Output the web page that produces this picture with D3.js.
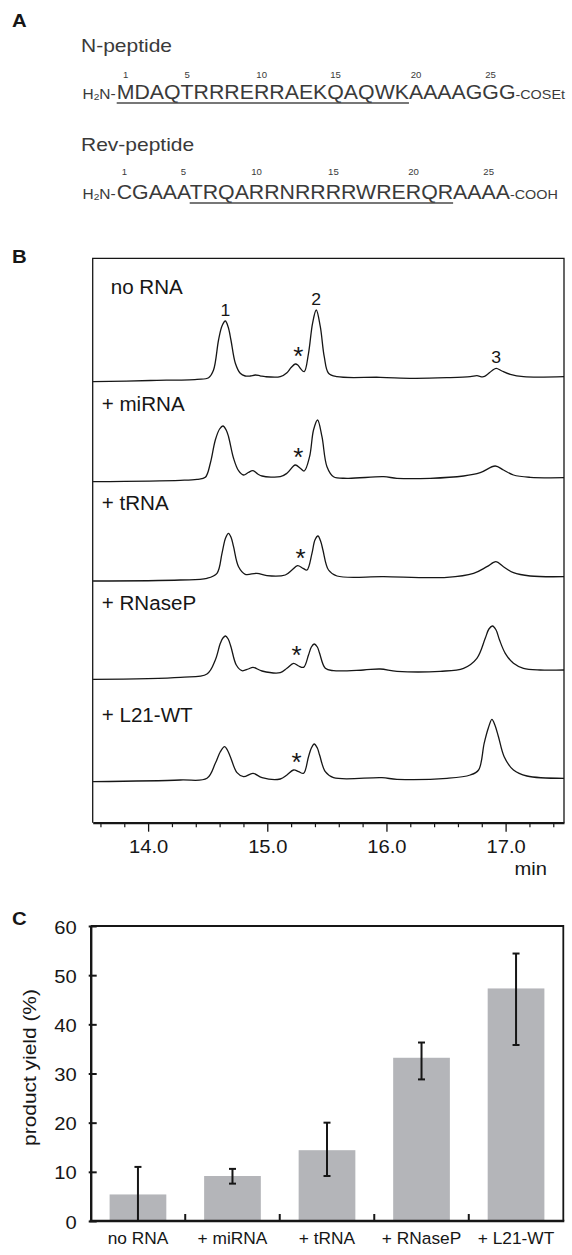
<!DOCTYPE html>
<html><head><meta charset="utf-8">
<script src="https://cdn.jsdelivr.net/npm/d3@7"></script>
<style>html,body{margin:0;padding:0;background:#fff;} svg{display:block;font-family:"Liberation Sans",Arial,Helvetica,sans-serif;}</style>
</head><body><svg id="fig" width="572" height="1255"></svg>
<script>
// ---------------- Panel A data ----------------
const nPeptideSeq = "MDAQTRRRERRAEKQAQWKAAAAGGG";
const nPeptideUnderline = [1, 19];
const revPeptideSeq = "CGAAATRQARRNRRRRWRERQRAAAA";
const revPeptideUnderline = [6, 22];
const residueMarks = [1, 5, 10, 15, 20, 25];

// ---------------- Panel B data (time in min, signal in arbitrary units) ----------------
const lanes = ["no RNA", "+ miRNA", "+ tRNA", "+ RNaseP", "+ L21-WT"];
const traceNoRNA = [[13.538,-1.7],[14.02,-0.5],[14.41,0.7],[14.508,2.3],[14.549,10],[14.591,40],[14.62,54],[14.648,59],[14.672,53],[14.695,40],[14.732,16.7],[14.773,6.7],[14.815,4],[14.857,4],[14.899,5],[14.94,4.2],[14.983,3.3],[15.109,3.3],[15.165,7.3],[15.2,12.5],[15.235,16],[15.256,15],[15.277,11.7],[15.31,8.3],[15.346,26.7],[15.38,56.7],[15.411,70],[15.445,53.3],[15.478,23.3],[15.514,6.7],[15.585,3.3],[15.948,2.7],[16.227,1.7],[16.508,2.3],[16.703,3.3],[16.759,4.3],[16.815,3.3],[16.885,9.3],[16.921,11.7],[16.969,9],[17.039,5.7],[17.15,3.3],[17.49,3.3]];
const traceMiRNA = [[13.538,-1.7],[14.27,-0.3],[14.41,0.7],[14.48,2.7],[14.522,16.7],[14.564,40],[14.6,51],[14.628,54],[14.655,50],[14.675,43.3],[14.717,21.7],[14.759,9.3],[14.801,5],[14.84,7.5],[14.88,9.3],[14.92,6],[14.956,4],[15.109,3.3],[15.165,6.7],[15.235,15],[15.277,11.7],[15.31,9],[15.355,23.3],[15.388,50],[15.422,60],[15.459,43.3],[15.501,13.3],[15.556,3.3],[15.669,1.7],[15.976,3.3],[16.088,1.7],[16.367,1.7],[16.647,4],[16.787,7.3],[16.913,14],[16.982,10],[17.066,5],[17.206,2.7],[17.49,2.3]];
const traceTRNA = [[13.538,-1],[14.27,0],[14.494,1.7],[14.578,6.7],[14.62,26.7],[14.65,42],[14.675,46.7],[14.698,42],[14.717,33.3],[14.759,13.3],[14.815,5.7],[14.913,6.7],[14.997,4.3],[15.151,5],[15.207,10],[15.254,14.3],[15.3,11.7],[15.333,10],[15.375,26.7],[15.4,40],[15.425,44],[15.45,38],[15.467,30],[15.514,10],[15.585,4],[15.976,3.3],[16.508,2.7],[16.731,6.7],[16.843,13.3],[16.919,18.3],[16.982,13.3],[17.066,7.3],[17.206,4],[17.49,3.3]];
const traceRNaseP = [[13.538,0.7],[14.27,2.7],[14.494,6],[14.564,20],[14.606,36.7],[14.628,42],[14.65,44],[14.672,41],[14.695,33.3],[14.74,15],[14.788,9.3],[14.84,11],[14.88,12.7],[14.956,9],[15.109,7.3],[15.165,11.7],[15.221,16.7],[15.263,14],[15.305,12.7],[15.346,25],[15.37,33],[15.394,36],[15.42,33],[15.439,26.7],[15.487,11.7],[15.556,9.3],[15.808,10],[15.948,11],[16.088,8.7],[16.451,8.7],[16.647,11.7],[16.759,21.7],[16.829,41.7],[16.86,51],[16.89,54],[16.92,50],[16.949,40],[16.997,26.7],[17.066,16.7],[17.15,11.7],[17.29,10],[17.49,10]];
const traceL21WT = [[13.538,-1.7],[14.27,0],[14.494,1.7],[14.564,16.7],[14.605,28],[14.642,33.3],[14.665,30],[14.69,23.3],[14.746,7.3],[14.801,3.3],[14.88,6.7],[14.956,2.3],[15.109,1],[15.165,5],[15.221,10],[15.263,8.3],[15.305,6.7],[15.346,23.3],[15.37,32],[15.394,36],[15.42,32],[15.439,25],[15.487,8.3],[15.556,2.3],[15.962,2.3],[16.088,0.7],[16.508,1.7],[16.703,5],[16.773,10],[16.82,36.7],[16.855,52],[16.885,60.7],[16.91,55],[16.94,43.3],[16.988,23.3],[17.066,10],[17.179,4],[17.49,1.7]];
const traces = [traceNoRNA, traceMiRNA, traceTRNA, traceRNaseP, traceL21WT];
const peakLabels = [{label: "1", t: 14.648}, {label: "2", t: 15.411}, {label: "3", t: 16.921}];
const starPeakTime = 15.24;
const timeDomain = [13.535, 17.49];
const timeTicksMajor = [14, 15, 16, 17];
const timeTickLabels = ["14.0", "15.0", "16.0", "17.0"];
const timeTicksMinor = [13.6,13.8,14.2,14.4,14.6,14.8,15.2,15.4,15.6,15.8,16.2,16.4,16.6,16.8,17.2,17.4];

// ---------------- Panel C data ----------------
const yieldCategories = ["no RNA", "+ miRNA", "+ tRNA", "+ RNaseP", "+ L21-WT"];
const yieldMean = [5.4, 9.15, 14.4, 33.2, 47.3];
const yieldErrLow = [0.0, 7.6, 9.15, 28.8, 35.8];
const yieldErrHigh = [11.0, 10.6, 20.0, 36.3, 54.4];
const yieldTicks = [0, 10, 20, 30, 40, 50, 60];

// ---------------- drawing ----------------
const svg = d3.select("#fig");
const ink = "#161616", inkA = "#3a3a3a";

function label(parent, x, y, str, o = {}) {
  const g = parent.append("g")
    .attr("transform", `translate(${x},${y})${o.rotate ? ` rotate(${o.rotate})` : ""} scale(${o.sx || 1},1)`);
  return g.append("text").attr("font-size", o.size || 16).attr("text-anchor", o.anchor || "start")
    .attr("font-weight", o.weight || "normal").attr("fill", o.fill || ink).text(str);
}

// Panel letters
label(svg, 12, 27, "A", {size: 18.5, weight: "bold", sx: 1.1});
label(svg, 12, 263, "B", {size: 18.5, weight: "bold", sx: 1.1});
label(svg, 12, 925, "C", {size: 18.5, weight: "bold", sx: 1.1});

// ---------- Panel A ----------
function drawPeptide(title, titleY, seq, ul, suffix, baseY, numY) {
  label(svg, 81, titleY, title, {size: 17.5, sx: 1.2, fill: inkA});
  const sx = 1.065, seqX = 116.7;
  const g = svg.append("g").attr("transform", `translate(${seqX},${baseY}) scale(${sx},1)`);
  const pre = g.append("text").attr("x", -1).attr("text-anchor", "end").attr("font-size", 14.5).attr("fill", inkA);
  pre.append("tspan").text("H");
  pre.append("tspan").attr("font-size", 9.5).attr("dy", 1.5).text("2");
  pre.append("tspan").attr("dy", -1.5).text("N-");
  const st = g.append("text").attr("font-size", 20).attr("fill", inkA).text(seq);
  const node = st.node();
  const total = node.getComputedTextLength();
  g.append("text").attr("x", total).attr("font-size", 13.5).attr("fill", inkA).text(suffix);
  residueMarks.forEach(n => {
    const cx = node.getSubStringLength(0, n - 1) + node.getSubStringLength(n - 1, 1) / 2;
    g.append("text").attr("x", cx).attr("y", numY - baseY).attr("text-anchor", "middle")
      .attr("font-size", 9).attr("fill", inkA).text(n);
  });
  const x0 = node.getSubStringLength(0, ul[0] - 1), x1 = node.getSubStringLength(0, ul[1]);
  g.append("line").attr("x1", x0).attr("x2", x1).attr("y1", 4.5).attr("y2", 4.5)
    .attr("stroke", "#4a4a4a").attr("stroke-width", 1.6);
}
drawPeptide("N-peptide", 52, nPeptideSeq, nPeptideUnderline, "-COSEt", 98.5, 78);
drawPeptide("Rev-peptide", 151, revPeptideSeq, revPeptideUnderline, "-COOH", 198.5, 174.5);

// ---------- Panel B ----------
const bTop = 258.3, bBottom = 822.7;
const xB = d3.scaleLinear().domain(timeDomain).range([92.7, 564]);
const laneY = d3.scalePoint().domain(lanes).range([380, 780]);
const sig = d3.scaleLinear().domain([0, 100]).range([0, -100]);
const laneLabelY = [294, 411, 510, 610, 722];
const laneLabelX = [110.7, 101.7, 101.7, 101.7, 101.7];

svg.append("path")
  .attr("d", `M${xB.range()[0]},${bBottom}V${bTop}H${xB.range()[1]}V${bBottom}`)
  .attr("fill", "none").attr("stroke", ink).attr("stroke-width", 1.3);

const gB = svg.append("g");
lanes.forEach((ln, i) => {
  const line = d3.line().curve(d3.curveCatmullRom.alpha(0.5))
    .x(d => xB(d[0])).y(d => laneY(ln) + sig(d[1]));
  gB.append("path").datum(traces[i]).attr("d", line)
    .attr("fill", "none").attr("stroke", ink).attr("stroke-width", 1.3).attr("stroke-linejoin", "round");
  label(gB, laneLabelX[i], laneLabelY[i], ln, {size: 20, sx: 1.03});
  // asterisk above the small peak
  const pts = traces[i].filter(d => Math.abs(d[0] - starPeakTime) <= 0.05);
  const pk = d3.greatest(pts, d => d[1]);
  label(gB, xB(pk[0]) + 3, laneY(ln) + sig(pk[1]) + 1, "*", {size: 26, anchor: "middle"});
});
peakLabels.forEach(p => {
  const pts = traceNoRNA.filter(d => Math.abs(d[0] - p.t) <= 0.03);
  const pk = d3.greatest(pts, d => d[1]);
  label(gB, xB(pk[0]), laneY(lanes[0]) + sig(pk[1]) - 5, p.label, {size: 16, sx: 1.1, anchor: "middle"});
});

const axB = svg.append("g").attr("transform", `translate(0,${bBottom})`)
  .call(d3.axisBottom(xB).tickValues(timeTicksMajor).tickSize(9).tickSizeOuter(0)
    .tickFormat((d, i) => timeTickLabels[i]));
axB.select(".domain").attr("stroke", ink).attr("stroke-width", 2.2);
axB.selectAll(".tick line").attr("stroke", ink).attr("stroke-width", 1.3);
axB.selectAll(".tick text").attr("y", 30.5).attr("dy", 0).attr("font-size", 18).attr("fill", ink)
  .attr("font-family", "Liberation Sans, Arial, sans-serif").attr("transform", "scale(1.12,1)");
const axBm = svg.append("g").attr("transform", `translate(0,${bBottom})`)
  .call(d3.axisBottom(xB).tickValues(timeTicksMinor).tickSize(4.5).tickSizeOuter(0).tickFormat(""));
axBm.select(".domain").remove();
axBm.selectAll(".tick line").attr("stroke", ink).attr("stroke-width", 1.2);
label(svg, 547, 875, "min", {size: 18, sx: 1.12, anchor: "end"});

// ---------- Panel C ----------
const xC = d3.scaleBand().domain(yieldCategories).range([90.7, 563.3]).paddingInner(0.4).paddingOuter(0.2);
const yC = d3.scaleLinear().domain([0, 60]).range([1221, 926]);
const gC = svg.append("g");

gC.selectAll("rect.bar").data(yieldCategories).join("rect").attr("class", "bar")
  .attr("x", d => xC(d)).attr("width", xC.bandwidth())
  .attr("y", (d, i) => yC(yieldMean[i])).attr("height", (d, i) => yC(0) - yC(yieldMean[i]))
  .attr("fill", "#b4b5b9");

// frame top & right
gC.append("path").attr("d", `M${xC.range()[0]},${yC(60)}H${xC.range()[1]}V${yC(0)}`)
  .attr("fill", "none").attr("stroke", ink).attr("stroke-width", 1.8);

// error bars
yieldCategories.forEach((c, i) => {
  const cx = xC(c) + xC.bandwidth() / 2;
  const eg = gC.append("g").attr("stroke", ink).attr("stroke-width", 2);
  eg.append("line").attr("x1", cx).attr("x2", cx).attr("y1", yC(yieldErrLow[i])).attr("y2", yC(yieldErrHigh[i]));
  eg.append("line").attr("x1", cx - 3.5).attr("x2", cx + 3.5).attr("y1", yC(yieldErrHigh[i])).attr("y2", yC(yieldErrHigh[i]));
  if (yieldErrLow[i] > 0)
    eg.append("line").attr("x1", cx - 3.5).attr("x2", cx + 3.5).attr("y1", yC(yieldErrLow[i])).attr("y2", yC(yieldErrLow[i]));
});

// left axis
const axCy = svg.append("g").attr("transform", `translate(${xC.range()[0]},0)`)
  .call(d3.axisLeft(yC).tickValues(yieldTicks).tickSize(-6).tickSizeOuter(0).tickFormat(d3.format("d")));
axCy.select(".domain").attr("stroke", ink).attr("stroke-width", 2.4);
axCy.selectAll(".tick line").attr("x1", -2).attr("stroke", ink).attr("stroke-width", 2);
axCy.selectAll(".tick text").attr("x", -14 / 1.12).attr("dy", 0).attr("y", 7).attr("font-size", 18).attr("fill", ink)
  .attr("font-family", "Liberation Sans, Arial, sans-serif").attr("transform", "scale(1.12,1)");

// bottom axis with category boundary ticks
const axCx = svg.append("g").attr("transform", `translate(0,${yC(0)})`);
axCx.append("line").attr("x1", xC.range()[0] - 1).attr("x2", xC.range()[1] + 1)
  .attr("stroke", ink).attr("stroke-width", 2.4);
const boundaries = yieldCategories.slice(1).map(c => xC(c) - xC.step() * xC.paddingInner() / 2);
axCx.selectAll("line.bt").data(boundaries).join("line").attr("class", "bt")
  .attr("x1", d => d).attr("x2", d => d).attr("y1", 0).attr("y2", -7)
  .attr("stroke", ink).attr("stroke-width", 2);
yieldCategories.forEach(c => {
  label(svg, xC(c) + xC.bandwidth() / 2, 1244, c, {size: 16.5, sx: 1.05, anchor: "middle"});
});
label(svg, 36, (yC(0) + yC(60)) / 2 - 6, "product yield (%)", {size: 19, sx: 1.1, rotate: -90, anchor: "middle"});
</script>
</body></html>
